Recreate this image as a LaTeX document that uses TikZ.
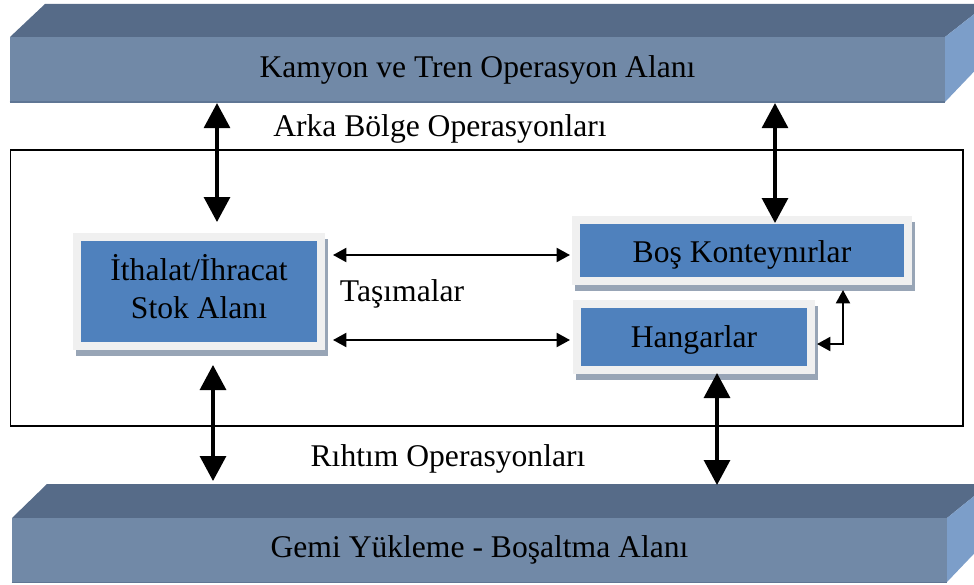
\documentclass[tikz,border=0pt]{standalone}
\usepackage{fontspec}
\setmainfont{Liberation Serif}
\usetikzlibrary{arrows.meta,shadows}

\definecolor{barfront}{HTML}{7189A7}
\definecolor{bartop}{HTML}{566B88}
\definecolor{barside}{HTML}{7C9EC9}
\definecolor{baredge}{HTML}{5F7694}
\definecolor{boxblue}{HTML}{4F81BD}
\definecolor{boxframe}{HTML}{F0F0F0}
\definecolor{boxshadow}{HTML}{98A5B6}

\tikzset{
  lbl/.style={font=\fontsize{23.7}{28.5}\selectfont, inner sep=0pt},
  barface/.style={lbl, fill=barfront, draw=none, minimum width=701.25pt, minimum height=48.5pt},
  unit/.style={lbl, fill=boxblue, draw=boxframe, line width=6pt, align=center,
    drop shadow={shadow xshift=2.25pt, shadow yshift=-4.5pt, fill=boxshadow,
                 draw=boxshadow, line width=6pt, opacity=1}},
  bigarrow/.style={line width=2.4pt,
    {Triangle[width=19.5pt,length=18.75pt]}-{Triangle[width=19.5pt,length=18.75pt]}},
  flow/.style={line width=1.5pt,
    {Triangle[width=10.5pt,length=10pt]}-{Triangle[width=10.5pt,length=10pt]}},
}

\begin{document}
\begin{tikzpicture}[x=0.75pt,y=-0.75pt]
\clip (0,0) rectangle (974,585);

% truck and rail operations bar
\fill[bartop] (10,37) -- (45,4) -- (987,4) -- (945,37) -- cycle;
\fill[barside] (945,37) -- (987,4) -- (987,58) -- (945,102) -- cycle;
\node[barface] (yard) at (477.5,69.5) {Kamyon ve Tren Operasyon Alanı};
\draw[baredge, line width=1.2pt] (yard.south west) -- (yard.south east);

% ship loading / unloading bar
\fill[bartop] (12,518) -- (47,484) -- (989,484) -- (947,518) -- cycle;
\fill[barside] (947,518) -- (989,484) -- (989,538) -- (947,582) -- cycle;
\node[barface] (ship) at (479.5,550) {Gemi Yükleme - Boşaltma Alanı};
\draw[baredge, line width=1.2pt] (ship.south west) -- (ship.south east);

% back area frame
\node[draw, line width=1.1pt, inner sep=0pt, minimum width=714.4pt, minimum height=207pt]
  (backarea) at (486.75,288) {};

% labels
\node[lbl] (arka) at (440,129) {Arka Bölge Operasyonları};
\node[lbl] (rihtim) at (448,459) {Rıhtım Operasyonları};
\node[lbl] (tasima) at (402,294) {Taşımalar};

% storage units
\node[unit, minimum width=183pt, minimum height=81.75pt] (stok) at (199,291.5)
  {\begin{tabular}{@{}c@{}}İthalat/İhracat\\Stok Alanı\end{tabular}};
\node[unit, minimum width=249pt, minimum height=45.75pt] (bos) at (742,250.5)
  {\raisebox{-3pt}[\height][\depth]{Boş Konteynırlar}};
\node[unit, minimum width=175.5pt, minimum height=49.5pt] (hangar) at (694,337)
  {\raisebox{-2pt}[\height][\depth]{Hangarlar}};

% arrow end points
\coordinate (tl) at (217,222);
\coordinate (tr) at (775,223);
\coordinate (bl) at (213,365);
\coordinate (br) at (717,373);
\coordinate (h1a) at (333,255);
\coordinate (h1b) at (570,255);
\coordinate (h2a) at (333,340);
\coordinate (h2b) at (570,340);
\coordinate (lk1) at (843,290);
\coordinate (lk2) at (817,344);

% vertical transfers
\draw[bigarrow] ([yshift=-0.75pt]yard.south -| tl) -- (tl);
\draw[bigarrow] ([yshift=-0.75pt]yard.south -| tr) -- (tr);
\draw[bigarrow] (bl) -- (bl |- 0,481);
\draw[bigarrow] (br) -- (br |- 0,485);

% horizontal transfers
\draw[flow] (h1a) -- (h1b);
\draw[flow] (h2a) -- (h2b);
\draw[flow] (lk1) |- (lk2);
\end{tikzpicture}
\end{document}
